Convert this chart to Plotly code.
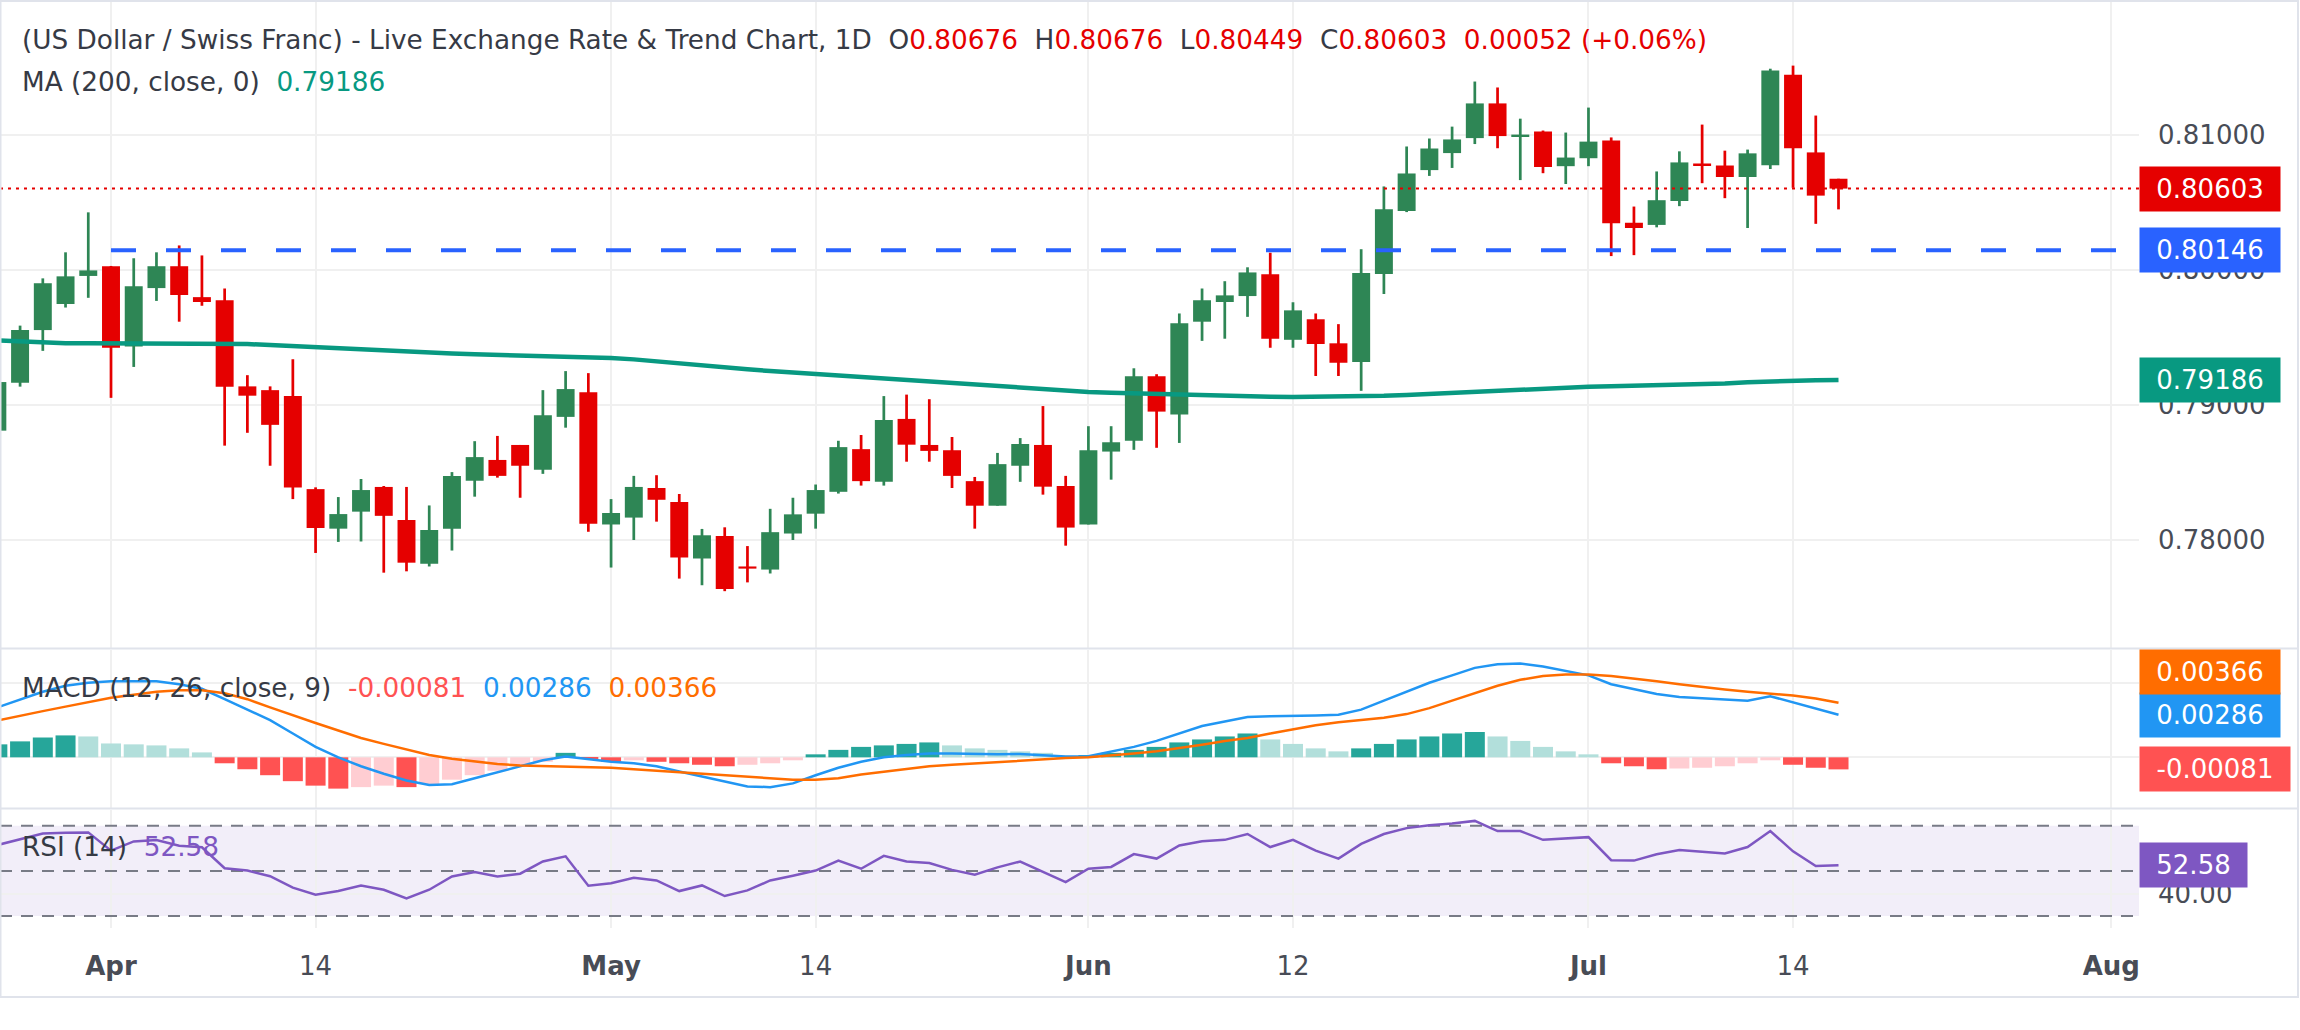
import plotly.graph_objects as go

# ---------------- data ----------------
tick_index = [5, 14, 27, 36, 48, 57, 70, 79, 93]
tick_labels = ["Apr", "14", "May", "14", "Jun", "12", "Jul", "14", "Aug"]
month_labels = ["Apr", "May", "Jun", "Jul", "Aug"]

opens = [0.78810, 0.79164, 0.79555, 0.79748, 0.79956, 0.80028, 0.79434, 0.79866, 0.80028, 0.79799,
         0.79776, 0.79138, 0.79110, 0.79066, 0.78377, 0.78084, 0.78210, 0.78393, 0.78148, 0.77824,
         0.78084, 0.78439, 0.78593, 0.78704, 0.78521, 0.78912, 0.79095, 0.78115, 0.78166, 0.78385,
         0.78282, 0.77863, 0.78030, 0.77804, 0.77781, 0.78048, 0.78195, 0.78357, 0.78673, 0.78431,
         0.78897, 0.78704, 0.78665, 0.78436, 0.78254, 0.78550, 0.78704, 0.78400, 0.78115, 0.78655,
         0.78735, 0.79213, 0.78930, 0.79617, 0.79763, 0.79807, 0.79969, 0.79483, 0.79635, 0.79457,
         0.79318, 0.79971, 0.80437, 0.80740, 0.80866, 0.80977, 0.81234, 0.80992, 0.81026, 0.80769,
         0.80828, 0.80959, 0.80350, 0.80334, 0.80511, 0.80789, 0.80774, 0.80689, 0.80776, 0.81447,
         0.80871, 0.80676]
highs = [0.79200, 0.79588, 0.79938, 0.80131, 0.80427, 0.80030, 0.80087, 0.80131, 0.80182, 0.80108,
         0.79863, 0.79221, 0.79138, 0.79339, 0.78390, 0.78318, 0.78452, 0.78400, 0.78393, 0.78256,
         0.78503, 0.78732, 0.78771, 0.78704, 0.79110, 0.79251, 0.79236, 0.78303, 0.78475, 0.78480,
         0.78341, 0.78082, 0.78094, 0.77955, 0.78231, 0.78313, 0.78411, 0.78735, 0.78778, 0.79066,
         0.79077, 0.79043, 0.78763, 0.78467, 0.78645, 0.78755, 0.78992, 0.78475, 0.78843, 0.78843,
         0.79272, 0.79228, 0.79678, 0.79863, 0.79917, 0.80020, 0.80128, 0.79761, 0.79678, 0.79599,
         0.80154, 0.80619, 0.80915, 0.80974, 0.81062, 0.81396, 0.81352, 0.81121, 0.81033, 0.81018,
         0.81203, 0.80982, 0.80470, 0.80730, 0.80879, 0.81077, 0.80884, 0.80892, 0.81491, 0.81514,
         0.81144, 0.80676]
lows = [0.78780, 0.79136, 0.79401, 0.79722, 0.79794, 0.79053, 0.79282, 0.79771, 0.79617, 0.79735,
        0.78699, 0.78794, 0.78550, 0.78303, 0.77904, 0.77986, 0.77989, 0.77758, 0.77768, 0.77804,
        0.77922, 0.78321, 0.78462, 0.78313, 0.78490, 0.78832, 0.78061, 0.77796, 0.78000, 0.78136,
        0.77714, 0.77665, 0.77621, 0.77686, 0.77752, 0.78000, 0.78084, 0.78344, 0.78403, 0.78403,
        0.78580, 0.78580, 0.78385, 0.78084, 0.78254, 0.78431, 0.78336, 0.77958, 0.78115, 0.78447,
        0.78668, 0.78683, 0.78719, 0.79475, 0.79491, 0.79653, 0.79424, 0.79424, 0.79215, 0.79215,
        0.79105, 0.79822, 0.80429, 0.80697, 0.80756, 0.80933, 0.80902, 0.80666, 0.80717, 0.80637,
        0.80769, 0.80103, 0.80110, 0.80316, 0.80473, 0.80643, 0.80532, 0.80311, 0.80748, 0.80609,
        0.80342, 0.80449]
closes = [0.79170, 0.79555, 0.79902, 0.79953, 0.79997, 0.79424, 0.79879, 0.80028, 0.79815, 0.79763,
          0.79136, 0.79069, 0.78853, 0.78388, 0.78089, 0.78192, 0.78370, 0.78179, 0.77832, 0.78074,
          0.78475, 0.78614, 0.78475, 0.78550, 0.78925, 0.79118, 0.78120, 0.78200, 0.78393, 0.78298,
          0.77871, 0.78035, 0.77637, 0.77788, 0.78058, 0.78190, 0.78370, 0.78688, 0.78436, 0.78889,
          0.78706, 0.78660, 0.78475, 0.78254, 0.78562, 0.78711, 0.78395, 0.78092, 0.78665, 0.78724,
          0.79213, 0.78951, 0.79606, 0.79776, 0.79812, 0.79982, 0.79491, 0.79701, 0.79452, 0.79313,
          0.79977, 0.80450, 0.80715, 0.80900, 0.80967, 0.81234, 0.80992, 0.81003, 0.80763, 0.80833,
          0.80951, 0.80347, 0.80311, 0.80517, 0.80797, 0.80776, 0.80689, 0.80864, 0.81478, 0.80902,
          0.80551, 0.80603]
ma200 = [0.79478, 0.79470, 0.79462, 0.79457, 0.79457, 0.79456, 0.79457, 0.79458, 0.79458, 0.79457,
         0.79455, 0.79451, 0.79445, 0.79436, 0.79428, 0.79418, 0.79410, 0.79402, 0.79395, 0.79388,
         0.79381, 0.79376, 0.79372, 0.79368, 0.79365, 0.79362, 0.79356, 0.79348, 0.79338, 0.79322,
         0.79306, 0.79296, 0.79282, 0.79265, 0.79251, 0.79240, 0.79228, 0.79218, 0.79205, 0.79193,
         0.79182, 0.79170, 0.79160, 0.79147, 0.79135, 0.79125, 0.79115, 0.79105, 0.79097, 0.79090,
         0.79085, 0.79080, 0.79077, 0.79074, 0.79072, 0.79068, 0.79062, 0.79060, 0.79060, 0.79061,
         0.79062, 0.79068, 0.79075, 0.79083, 0.79092, 0.79100, 0.79108, 0.79116, 0.79122, 0.79130,
         0.79135, 0.79139, 0.79142, 0.79146, 0.79150, 0.79155, 0.79160, 0.79168, 0.79176, 0.79182,
         0.79184, 0.79186]
macd_line = [0.00335, 0.00390, 0.00440, 0.00480, 0.00500, 0.00510, 0.00510, 0.00510, 0.00490, 0.00460,
             0.00390, 0.00320, 0.00250, 0.00160, 0.00070, 0.00000, -0.00060, -0.00110, -0.00155, -0.00185,
             -0.00180, -0.00140, -0.00100, -0.00060, -0.00020, 0.00005, -0.00015, -0.00030, -0.00040, -0.00060,
             -0.00095, -0.00130, -0.00165, -0.00195, -0.00200, -0.00175, -0.00120, -0.00070, -0.00030, 0.00000,
             0.00015, 0.00025, 0.00025, 0.00020, 0.00020, 0.00022, 0.00015, 0.00005, 0.00008, 0.00040,
             0.00070, 0.00110, 0.00160, 0.00210, 0.00240, 0.00270, 0.00275, 0.00280, 0.00280, 0.00285,
             0.00320, 0.00380, 0.00440, 0.00500, 0.00550, 0.00600, 0.00625, 0.00630, 0.00610, 0.00580,
             0.00550, 0.00490, 0.00455, 0.00425, 0.00405, 0.00395, 0.00385, 0.00380, 0.00410, 0.00370,
             0.00330, 0.00286]
signal_line = [0.00247, 0.00280, 0.00310, 0.00340, 0.00370, 0.00400, 0.00420, 0.00440, 0.00450, 0.00450,
               0.00430, 0.00390, 0.00335, 0.00280, 0.00230, 0.00180, 0.00130, 0.00090, 0.00050, 0.00015,
               -0.00010, -0.00030, -0.00045, -0.00055, -0.00060, -0.00065, -0.00068, -0.00070, -0.00080, -0.00090,
               -0.00100, -0.00110, -0.00125, -0.00135, -0.00145, -0.00150, -0.00150, -0.00140, -0.00115, -0.00095,
               -0.00075, -0.00060, -0.00050, -0.00040, -0.00030, -0.00020, -0.00012, -0.00005, 0.00000, 0.00010,
               0.00025, 0.00040, 0.00060, 0.00085, 0.00110, 0.00130, 0.00160, 0.00190, 0.00215, 0.00235,
               0.00250, 0.00265, 0.00290, 0.00330, 0.00380, 0.00430, 0.00480, 0.00520, 0.00545, 0.00555,
               0.00555, 0.00545, 0.00530, 0.00510, 0.00490, 0.00470, 0.00455, 0.00440, 0.00430, 0.00415,
               0.00395, 0.00366]
macd_hist = [0.00087, 0.00107, 0.00133, 0.00147, 0.00140, 0.00093, 0.00087, 0.00080, 0.00060, 0.00033,
             -0.00040, -0.00080, -0.00120, -0.00160, -0.00190, -0.00210, -0.00200, -0.00190, -0.00200, -0.00180,
             -0.00150, -0.00120, -0.00090, -0.00060, -0.00030, 0.00030, -0.00010, -0.00030, -0.00020, -0.00030,
             -0.00040, -0.00050, -0.00060, -0.00050, -0.00040, -0.00020, 0.00020, 0.00050, 0.00070, 0.00080,
             0.00090, 0.00100, 0.00080, 0.00060, 0.00050, 0.00040, 0.00030, 0.00010, 0.00015, 0.00030,
             0.00050, 0.00070, 0.00100, 0.00120, 0.00140, 0.00160, 0.00120, 0.00090, 0.00060, 0.00040,
             0.00060, 0.00090, 0.00120, 0.00140, 0.00160, 0.00170, 0.00140, 0.00110, 0.00070, 0.00040,
             0.00020, -0.00040, -0.00060, -0.00080, -0.00075, -0.00070, -0.00060, -0.00040, -0.00020, -0.00050,
             -0.00070, -0.00081]
rsi = [61.5, 64.0, 66.6, 67.0, 67.1, 59.0, 63.1, 63.7, 61.2, 60.5,
       51.2, 50.2, 47.7, 42.6, 39.5, 41.1, 43.6, 41.7, 37.8, 41.7,
       47.6, 49.5, 47.6, 48.8, 54.2, 56.5, 43.5, 44.6, 47.0, 45.8,
       41.1, 43.6, 38.9, 41.4, 45.8, 47.9, 50.2, 54.6, 51.0, 56.7,
       54.2, 53.5, 50.5, 48.4, 51.6, 54.2, 49.5, 45.1, 51.0, 51.8,
       57.5, 55.5, 61.3, 63.2, 63.8, 66.4, 60.6, 63.8, 59.0, 55.5,
       62.0, 66.4, 69.0, 70.3, 71.0, 72.2, 67.7, 67.7, 63.8, 64.5,
       65.0, 54.8, 54.6, 57.4, 59.3, 58.5, 57.8, 60.6, 67.7, 58.7,
       52.2, 52.58]

price_ticks = [0.78, 0.79, 0.80, 0.81]
macd_ticks = [0.0, 0.005]
rsi_ticks = [40]
rsi_upper, rsi_mid, rsi_lower = 70, 50, 30
support_level = 0.80146
support_start = 5
ohlc_header = {"O": 0.80676, "H": 0.80676, "L": 0.80449, "C": 0.80603}
change_abs, change_pct = 0.00052, 0.06
ma_last = 0.79186
rsi_last = 52.58

# ---------------- layout constants ----------------
W, H = 2300, 1030
PLOT_R = 2139
FONT = "DejaVu Sans"
GREEN, RED = "#2E8655", "#E50000"
TXT = "#363A45"
AX_TXT = "#484C56"
GRID = "#F0F0F0"
SEP = "#E0E3EB"

def py(px):
    return 1 - px / H

n = len(closes)
idx = list(range(n))
x_range = [0.1166, 94.22]
xdom = [0, PLOT_R / W]

MACD_TOP, MACD_BOT = 650, 808
macd_range = [-0.0034, 0.0072]
macd_px_per_unit = (MACD_BOT - MACD_TOP) / (macd_range[1] - macd_range[0])
BOX_H = 44

up = [c >= o for o, c in zip(opens, closes)]
ccol = [GREEN if u else RED for u in up]

fig = go.Figure()

# main pane
fig.add_trace(go.Bar(x=idx, y=[h - l for h, l in zip(highs, lows)], base=lows, width=0.12,
                     marker=dict(color=ccol, line=dict(width=0)), xaxis="x", yaxis="y", hoverinfo="skip"))
fig.add_trace(go.Bar(x=idx, y=[max(abs(c - o), 0.00002) for o, c in zip(opens, closes)],
                     base=[min(o, c) for o, c in zip(opens, closes)], width=0.79,
                     marker=dict(color=ccol, line=dict(width=0)), xaxis="x", yaxis="y", hoverinfo="skip"))
fig.add_trace(go.Scatter(x=idx, y=ma200, mode="lines", line=dict(color="#089981", width=4.5),
                         xaxis="x", yaxis="y", hoverinfo="skip"))
fig.add_trace(go.Scatter(x=[support_start, x_range[1]], y=[support_level, support_level], mode="lines",
                         line=dict(color="#2962FF", width=4, dash="25px,30px"), xaxis="x", yaxis="y",
                         hoverinfo="skip"))
fig.add_trace(go.Scatter(x=x_range, y=[closes[-1], closes[-1]], mode="lines",
                         line=dict(color=RED, width=2, dash="3px,5px"), xaxis="x", yaxis="y",
                         hoverinfo="skip"))

# MACD pane
hcol = []
for i, h in enumerate(macd_hist):
    prev = macd_hist[i - 1] if i > 0 else None
    if h >= 0:
        hcol.append("#26A69A" if (prev is None or h >= prev) else "#B2DFDB")
    else:
        hcol.append("#FF5252" if (prev is None or h <= prev) else "#FFCDD2")
fig.add_trace(go.Bar(x=idx, y=macd_hist, width=0.88, marker=dict(color=hcol, line=dict(width=0)),
                     xaxis="x2", yaxis="y2", hoverinfo="skip"))
fig.add_trace(go.Scatter(x=idx, y=macd_line, mode="lines", line=dict(color="#2196F3", width=2.5),
                         xaxis="x2", yaxis="y2", hoverinfo="skip"))
fig.add_trace(go.Scatter(x=idx, y=signal_line, mode="lines", line=dict(color="#FF6D00", width=2.5),
                         xaxis="x2", yaxis="y2", hoverinfo="skip"))

# RSI pane
for lvl in (rsi_upper, rsi_mid, rsi_lower):
    fig.add_trace(go.Scatter(x=x_range, y=[lvl, lvl], mode="lines",
                             line=dict(color="#787B86", width=2, dash="12px,9px"),
                             xaxis="x3", yaxis="y3", hoverinfo="skip"))
fig.add_trace(go.Scatter(x=idx, y=rsi, mode="lines", line=dict(color="#7E57C2", width=2.5),
                         xaxis="x3", yaxis="y3", hoverinfo="skip"))

ticktext = [("<b>%s</b>" % t) if t in month_labels else t for t in tick_labels]
xcommon = dict(range=x_range, domain=xdom, showgrid=True, gridcolor=GRID, gridwidth=2,
               tickvals=tick_index, ticktext=ticktext, zeroline=False, showline=False, ticks="",
               fixedrange=True)
ycommon = dict(side="right", showgrid=True, gridcolor=GRID, gridwidth=2, zeroline=False,
               showline=False, ticks="", ticklabelstandoff=18,
               tickfont=dict(family=FONT, size=26, color=AX_TXT), fixedrange=True)

fig.update_layout(
    width=W, height=H, margin=dict(l=0, r=0, t=0, b=0),
    paper_bgcolor="white", plot_bgcolor="white", showlegend=False,
    barmode="overlay", font=dict(family=FONT, size=26, color=TXT),
    xaxis=dict(xcommon, anchor="y", showticklabels=False),
    xaxis2=dict(xcommon, anchor="y2", showticklabels=False, matches="x"),
    xaxis3=dict(xcommon, anchor="y3", showticklabels=True, matches="x", ticklabelstandoff=20,
                tickfont=dict(family=FONT, size=26, color=AX_TXT)),
    yaxis=dict(ycommon, domain=[py(648), py(0)], range=[0.772, 0.82], anchor="x",
               tickvals=price_ticks, ticktext=["%.5f" % v for v in price_ticks]),
    yaxis2=dict(ycommon, domain=[py(MACD_BOT), py(MACD_TOP)], range=macd_range, anchor="x2",
                tickvals=macd_ticks, showticklabels=False),
    yaxis3=dict(ycommon, domain=[py(928), py(810)], range=[24.73, 77.03], anchor="x3",
                tickvals=rsi_ticks, ticktext=["%.2f" % v for v in rsi_ticks]),
)

# RSI band
fig.add_shape(type="rect", xref="x3 domain", yref="y3", x0=0, x1=1, y0=rsi_lower, y1=rsi_upper,
              fillcolor="rgba(126,87,194,0.10)", line=dict(width=0), layer="below")

# separators / borders
for ypx in (648.5, 808.5):
    fig.add_shape(type="line", xref="paper", yref="paper", x0=0, x1=2298 / W, y0=py(ypx), y1=py(ypx),
                  line=dict(color=SEP, width=2))
fig.add_shape(type="rect", xref="paper", yref="paper", x0=0.5 / W, x1=2298 / W, y0=py(997), y1=py(1),
              line=dict(color=SEP, width=2))

# value boxes on the right scale
def vbox(yval, yref, text, color, width=136):
    fig.add_annotation(xref="paper", x=PLOT_R / W, xanchor="left", yref=yref, y=yval, yanchor="middle",
                       text=text, showarrow=False, bgcolor=color, width=width, height=BOX_H - 4, borderpad=2,
                       align="center", font=dict(family=FONT, size=26, color="white"))

vbox(closes[-1], "y", "%.5f" % closes[-1], RED)
vbox(support_level, "y", "%.5f" % support_level, "#2962FF")
vbox(ma_last, "y", "%.5f" % ma_last, "#089981")
# blue MACD label sits at its value; orange signal label is stacked just above it (no overlap)
vbox(macd_line[-1], "y2", "%.5f" % macd_line[-1], "#2196F3")
vbox(macd_line[-1] + (BOX_H - 1) / macd_px_per_unit, "y2", "%.5f" % signal_line[-1], "#FF6D00")
vbox(macd_hist[-1], "y2", "%.5f" % macd_hist[-1], "#FF5252", width=146)
vbox(rsi_last, "y3", "%.2f" % rsi_last, "#7E57C2", width=103)

# header texts
hdr = ("(US Dollar / Swiss Franc) - Live Exchange Rate &amp; Trend Chart, 1D  "
       + "  ".join("%s<span style='color:%s'>%.5f</span>" % (k, RED, v) for k, v in ohlc_header.items())
       + "  <span style='color:%s'>%.5f (+%.2f%%)</span>" % (RED, change_abs, change_pct))
fig.add_annotation(xref="paper", yref="paper", x=20 / W, y=py(40), xanchor="left", yanchor="middle",
                   text=hdr, showarrow=False, font=dict(family=FONT, size=26.3, color=TXT))
fig.add_annotation(xref="paper", yref="paper", x=20 / W, y=py(82), xanchor="left", yanchor="middle",
                   text="MA (200, close, 0)  <span style='color:#089981'>%.5f</span>" % ma_last,
                   showarrow=False, font=dict(family=FONT, size=26.3, color=TXT))
fig.add_annotation(xref="paper", yref="paper", x=20 / W, y=py(688), xanchor="left", yanchor="middle",
                   text=("MACD (12, 26, close, 9)  <span style='color:#FF5252'>%.5f</span>  "
                         "<span style='color:#2196F3'>%.5f</span>  <span style='color:#FF6D00'>%.5f</span>")
                   % (macd_hist[-1], macd_line[-1], signal_line[-1]),
                   showarrow=False, font=dict(family=FONT, size=26.3, color=TXT))
fig.add_annotation(xref="paper", yref="paper", x=20 / W, y=py(847), xanchor="left", yanchor="middle",
                   text="RSI (14)  <span style='color:#7E57C2'>%.2f</span>" % rsi_last,
                   showarrow=False, font=dict(family=FONT, size=26.3, color=TXT))

fig.write_html("out.html", config={"displayModeBar": False})
